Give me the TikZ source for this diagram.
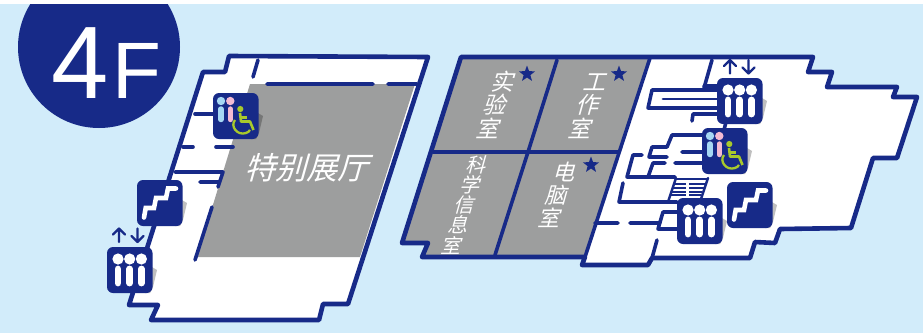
\documentclass[tikz,border=0pt]{standalone}
\usepackage{fontspec}
\setmainfont{Liberation Sans}
\newfontfamily\cjk[FakeSlant=0.28]{Noto Sans CJK SC}
\definecolor{navy}{HTML}{172A88}
\definecolor{skybg}{HTML}{D2ECFA}
\definecolor{roomgray}{HTML}{9D9E9E}
\definecolor{wcblue}{HTML}{A6D8F4}
\definecolor{wcpink}{HTML}{F4BBD3}
\definecolor{wcgreen}{HTML}{A8C92C}
\usetikzlibrary{shapes.geometric}
\tikzset{
  outer/.style={draw=navy,line width=4.6pt,line join=round,line cap=round},
  wall/.style={draw=navy,line width=3.6pt,line join=round,line cap=round},
  thin wall/.style={draw=navy,line width=1.5pt},
  tile/.style={fill=navy,rounded corners=6pt},
  shade/.style={fill=black,fill opacity=.25},
  lbl/.style={text=white,font=\cjk,inner sep=0pt},
  arw/.style={draw=navy,line width=2.3pt,line cap=round,line join=round},
}
\newcommand{\tileshade}[2]{\fill[shade,shift={(#1,#2)}] (45,20) -- (50,23) -- (46,40) -- (43,46) -- (38,46) -- (45,40) -- cycle;}
\newcommand{\tilebox}[2]{\fill[tile] (#1,#2) rectangle +(45.5,46);}
\newcommand{\lifticon}[2]{%
  \tileshade{#1}{#2}\tilebox{#1}{#2}
  \begin{scope}[shift={(#1,#2)}]
    \foreach \px in {11,22.7,34.4}{
      \fill[white] (\px,12) circle[radius=5.6pt];
      \draw[white,line width=6.8pt,line cap=round] (\px,22) -- (\px,36);
    }
  \end{scope}}
\newcommand{\stairicon}[2]{%
  \tileshade{#1}{#2}\tilebox{#1}{#2}
  \begin{scope}[shift={(#1,#2)}]
    \draw[white,line width=4.6pt,line cap=round,line join=miter]
      (7,37.5) -- (8.7,28) -- (17,28) -- (19,18) -- (29,18) -- (31,8.5) -- (39,8.5);
  \end{scope}}
\newcommand{\wcicon}[2]{%
  \tileshade{#1}{#2}\tilebox{#1}{#2}
  \begin{scope}[shift={(#1,#2)}]
    \fill[wcblue] (8,8) circle[radius=4.2pt];
    \draw[wcblue,line width=5.4pt,line cap=round] (8,16) -- (8,26.5);
    \fill[wcpink] (17.3,8) circle[radius=4.2pt];
    \draw[wcpink,line width=5.4pt,line cap=round] (17.3,16) -- (17.3,26.5);
    \fill[wcgreen] (27.3,16) circle[radius=3.1pt];
    \draw[wcgreen,line width=2.6pt,line join=round] (27,20) -- (28,28.5) -- (37,28.5) -- (40.5,37);
    \draw[wcgreen,line width=2.4pt] (27.5,24.5) -- (34,24.5);
    \draw[wcgreen,line width=2.3pt] (22,27) .. controls (17,33) and (24,43) .. (33,40) .. controls (35,39.3) and (36,38.5) .. (37,37);
  \end{scope}}
\newcommand{\arrowpair}[2]{%
  \begin{scope}[shift={(#1,#2)}]
    \draw[arw] (0,14) -- (0,0.5) (-6,6.5) -- (0,0.5) -- (6,6.5);
    \draw[arw] (18.5,0.5) -- (18.5,14) (12.5,8) -- (18.5,14) -- (24.5,8);
  \end{scope}}
\newcommand{\navystar}[2]{\node[star,star points=5,star point ratio=2.4,fill=navy,inner sep=0pt,minimum size=17pt] at (#1,#2) {};}
\begin{document}
\begin{tikzpicture}[x=1pt,y=-1pt]
\useasboundingbox (0,0) rectangle (923,333);
\fill[white] (0,0) rectangle (923,333);
\fill[skybg] (0,4) rectangle (923,333);
% floor badge
\begin{scope}
  \clip (0,4) rectangle (923,333);
  \fill[navy] (99,47) circle[radius=81pt];
\end{scope}
\node[text=white,font=\fontsize{103}{103}\selectfont,inner sep=0pt] (floornum) at (80,63) {4};
\node[text=white,font=\fontsize{80}{80}\selectfont,inner sep=0pt] (floorlet) at (136.5,70.5) {F};
% left wing
\path[fill=white] (229,56) -- (428,57) -- (348,304) -- (323,304) -- (319,320) -- (151,320) -- (158,305) -- (129,305) -- (203,72) -- (225,72) -- cycle;
\fill[roomgray] (250,84) -- (415,84) -- (360,257) -- (197,257) -- cycle;
\draw[outer] (229,56) -- (428,57) -- (348,304) -- (323,304) -- (319,320) -- (151,320) -- (158,305) -- (129,305) -- (203,72) -- (225,72) -- cycle;
\draw[wall] (267,84) -- (373,84) (388,84) -- (417,84) (258,60) -- (253,77);
\draw[wall] (195,114) -- (232,114) (183,147) -- (193,147) (216,147) -- (233,147);
\draw[wall] (175,172) -- (223,172) -- (218,187) (200,182) -- (218,182) (212,207) -- (195,260);
% right wing
\path[fill=white] (461,57) -- (813,57) -- (808,72) -- (832,72) -- (827,87) -- (897,87) -- (893,97) -- (917,97) -- (897,158) -- (873,158) -- (851,228) -- (780,229) -- (775,243) -- (755,242) -- (750,258) -- (652,258) -- (648,265) -- (582,265) -- (585,257) -- (422,257) -- (428,243) -- (402,243) -- cycle;
\fill[roomgray] (461,57) -- (650,58) -- (585,257) -- (422,257) -- (428,243) -- (402,243) -- cycle;
\draw[outer] (461,57) -- (813,57) -- (808,72) -- (832,72) -- (827,87) -- (897,87) -- (893,97) -- (917,97) -- (897,158) -- (873,158) -- (851,228) -- (780,229) -- (775,243) -- (755,242) -- (750,258) -- (652,258) -- (648,265) -- (582,265) -- (585,257) -- (422,257) -- (428,243) -- (402,243) -- cycle;
\draw[wall] (650,58) -- (585,257) (433,152) -- (618,152) (557,60) -- (528,152) -- (495,255);
% right wing service walls
\draw[wall] (712,60) -- (704,88) (704,86) -- (717,86) (717,90) -- (652,90) -- (648,108) -- (717,108) (717,114) -- (693,114) -- (692,121) (726,122) -- (724,130);
\draw[wall,line width=2.8pt] (663,99) -- (717,99);
\draw[wall] (702,135) -- (672,135) -- (667,147) -- (652,147) -- (649,157) -- (667,157) (682,152) -- (702,152) (642,155) -- (633,155) -- (627,177) -- (675,177) (665,163) -- (653,163) -- (648,177) (675,163) -- (702,163);
\draw[wall] (623,183) -- (619,202) -- (677,202) (677,212) -- (663,212) -- (658,229) -- (677,229) (657,240) -- (652,258) (595,223) -- (618,223) (630,223) -- (660,223);
% stair hatching
\draw[thin wall] (675,179) -- (707,179) (673,184) -- (705,184) (671.5,188) -- (703.5,188) (670.5,192) -- (702,192) (669.5,195) -- (701,195);
\fill[white] (686,182) rectangle (688.5,197);
\draw[wall,line width=2.4pt] (676,178) -- (668,202) (708,178) -- (701,199);
% tiles
\lifticon{107}{247}
\arrowpair{119}{228}
\stairicon{137}{180}
\wcicon{213}{93}
\lifticon{717}{78}
\arrowpair{730}{59.5}
\wcicon{702}{128}
\lifticon{677}{198}
\stairicon{727}{182}
% labels
\node[lbl,font=\cjk\fontsize{31}{31}\selectfont] (hall) at (306,168) {特别展厅};
\node[lbl,font=\cjk\fontsize{23}{23}\selectfont] (sa) at (502,82) {实};
\node[lbl,font=\cjk\fontsize{23}{23}\selectfont] (sb) at (494,105) {验};
\node[lbl,font=\cjk\fontsize{23}{23}\selectfont] (sc) at (487,128) {室};
\node[lbl,font=\cjk\fontsize{23}{23}\selectfont] (ga) at (594,82) {工};
\node[lbl,font=\cjk\fontsize{23}{23}\selectfont] (gb) at (587,105) {作};
\node[lbl,font=\cjk\fontsize{23}{23}\selectfont] (gc) at (579,128) {室};
\node[lbl,font=\cjk\fontsize{20}{20}\selectfont] (ka) at (475,165) {科};
\node[lbl,font=\cjk\fontsize{20}{20}\selectfont] (kb) at (469,185) {学};
\node[lbl,font=\cjk\fontsize{20}{20}\selectfont] (kc) at (463,205) {信};
\node[lbl,font=\cjk\fontsize{20}{20}\selectfont] (kd) at (457,225) {息};
\node[lbl,font=\cjk\fontsize{20}{20}\selectfont] (ke) at (450,245.5) {室};
\node[lbl,font=\cjk\fontsize{22}{22}\selectfont] (da) at (563,172) {电};
\node[lbl,font=\cjk\fontsize{22}{22}\selectfont] (db) at (555,195) {脑};
\node[lbl,font=\cjk\fontsize{22}{22}\selectfont] (dc) at (548,217.5) {室};
\navystar{527}{74}
\navystar{619}{74}
\navystar{591}{165}
\end{tikzpicture}
\end{document}
